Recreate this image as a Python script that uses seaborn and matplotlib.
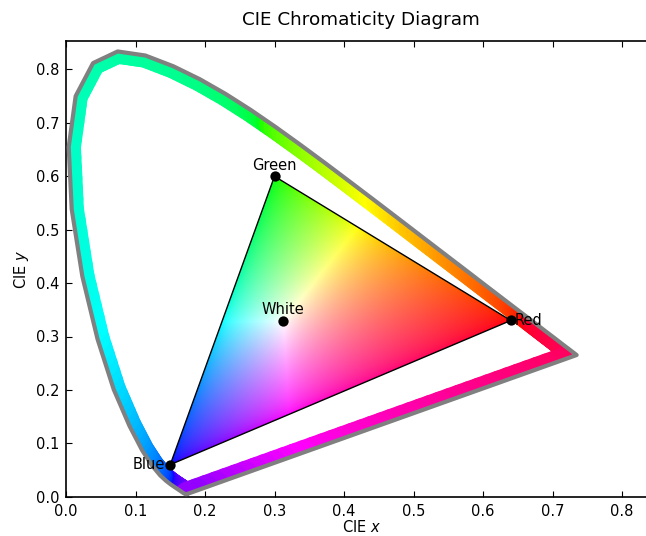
import numpy as np
import pandas as pd
import matplotlib
matplotlib.use("Agg")
import matplotlib.pyplot as plt
import seaborn as sns
from matplotlib.collections import LineCollection
from matplotlib.patches import Polygon
from matplotlib.path import Path

# ---- data -------------------------------------------------------------
wavelengths = [380, 385, 390, 395, 400, 405, 410, 415, 420, 425, 430, 435, 440, 445,
               450, 455, 460, 465, 470, 475, 480, 485, 490, 495, 500, 505, 510, 515,
               520, 525, 530, 535, 540, 545, 550, 555, 560, 565, 570, 575, 580, 585,
               590, 595, 600, 605, 610, 615, 620, 625, 630, 635, 640, 645, 650, 655,
               660, 665, 670, 675, 680, 685, 690, 695, 700]
locus_x = [0.1741, 0.1740, 0.1738, 0.1736, 0.1733, 0.1730, 0.1726, 0.1721, 0.1714,
           0.1703, 0.1689, 0.1669, 0.1644, 0.1611, 0.1566, 0.1510, 0.1440, 0.1355,
           0.1241, 0.1096, 0.0913, 0.0687, 0.0454, 0.0235, 0.0082, 0.0039, 0.0139,
           0.0389, 0.0743, 0.1142, 0.1547, 0.1929, 0.2296, 0.2658, 0.3016, 0.3373,
           0.3731, 0.4087, 0.4441, 0.4788, 0.5125, 0.5448, 0.5752, 0.6029, 0.6270,
           0.6482, 0.6658, 0.6801, 0.6915, 0.7006, 0.7079, 0.7140, 0.7190, 0.7230,
           0.7260, 0.7283, 0.7300, 0.7311, 0.7320, 0.7327, 0.7334, 0.7340, 0.7344,
           0.7346, 0.7347]
locus_y = [0.0050, 0.0050, 0.0049, 0.0049, 0.0048, 0.0048, 0.0048, 0.0048, 0.0051,
           0.0058, 0.0069, 0.0086, 0.0109, 0.0138, 0.0177, 0.0227, 0.0297, 0.0399,
           0.0578, 0.0868, 0.1327, 0.2007, 0.2950, 0.4127, 0.5384, 0.6548, 0.7502,
           0.8120, 0.8338, 0.8262, 0.8059, 0.7816, 0.7543, 0.7243, 0.6923, 0.6589,
           0.6245, 0.5896, 0.5547, 0.5202, 0.4866, 0.4544, 0.4242, 0.3965, 0.3725,
           0.3514, 0.3340, 0.3197, 0.3083, 0.2993, 0.2920, 0.2859, 0.2809, 0.2770,
           0.2740, 0.2717, 0.2700, 0.2689, 0.2680, 0.2673, 0.2666, 0.2660, 0.2656,
           0.2654, 0.2653]

point_names = ["Red", "Green", "Blue", "White"]
point_x = [0.64, 0.30, 0.15, 0.3127]
point_y = [0.33, 0.60, 0.06, 0.3290]

x_ticks = [0.0, 0.1, 0.2, 0.3, 0.4, 0.5, 0.6, 0.7, 0.8]
y_ticks = [0.0, 0.1, 0.2, 0.3, 0.4, 0.5, 0.6, 0.7, 0.8]

# ---- colour helper ----------------------------------------------------
M = np.array([[3.2406, -1.5372, -0.4986],
              [-0.9689, 1.8758, 0.0415],
              [0.0557, -0.2040, 1.0570]])


def xy_to_rgb(x, y, gamma=2.2):
    x = np.asarray(x, float)
    y = np.asarray(y, float)
    y = np.where(y <= 1e-6, 1e-6, y)
    X = x / y
    Y = np.ones_like(x)
    Z = (1 - x - y) / y
    xyz = np.stack([X, Y, Z], axis=-1)
    rgb = xyz @ M.T
    mn = np.minimum(rgb.min(axis=-1, keepdims=True), 0)
    rgb = rgb - mn
    rgb = rgb / rgb.max(axis=-1, keepdims=True)
    return np.clip(rgb, 0, 1) ** (1 / gamma)


# ---- figure -----------------------------------------------------------
sns.set_theme(style="white")
plt.rcParams["font.family"] = ["DejaVu Sans"]
plt.rcParams["mathtext.fontset"] = "dejavusans"

W, H = 646, 536
Y_TOP = 0.853
fig = plt.figure(figsize=(W / 100, H / 100), dpi=100)
ax_left = 66 / W
ax_bottom = (H - 496.7) / H
ax_w = 0.85 * 695 / W
ax_h = Y_TOP * 534 / H
ax = fig.add_axes([ax_left, ax_bottom, ax_w, ax_h])
ax.set_xlim(0, 0.85)
ax.set_ylim(0, Y_TOP)

lx = np.array(locus_x)
ly = np.array(locus_y)
closed_x = np.append(lx, lx[0])
closed_y = np.append(ly, ly[0])
locus_poly = Polygon(np.column_stack([closed_x, closed_y]), closed=True,
                     transform=ax.transData, facecolor="none", edgecolor="none")
ax.add_patch(locus_poly)

# colour band along the locus (clipped to the inside)
segs, cols = [], []
for i in range(len(closed_x) - 1):
    x0, y0, x1, y1 = closed_x[i], closed_y[i], closed_x[i + 1], closed_y[i + 1]
    n = 40 if i == len(closed_x) - 2 else 6
    ts = np.linspace(0, 1, n + 1)
    xs = x0 + (x1 - x0) * ts
    ys = y0 + (y1 - y0) * ts
    for k in range(n):
        segs.append([(xs[k], ys[k]), (xs[k + 1], ys[k + 1])])
        cols.append(xy_to_rgb((xs[k] + xs[k + 1]) / 2, (ys[k] + ys[k + 1]) / 2))
band = LineCollection(segs, colors=cols, linewidths=17.6, capstyle="round",
                      joinstyle="round", zorder=2)
ax.add_collection(band)
band.set_clip_path(locus_poly)

# gray outline
ax.plot(closed_x, closed_y, color="#808080", lw=3.0, solid_joinstyle="round",
        zorder=3)

# gamut triangle image
tri = np.column_stack([point_x[:3], point_y[:3]])
gx = np.linspace(0, 0.85, 500)
gy = np.linspace(0, 0.85, 500)
GX, GY = np.meshgrid(gx, gy)
rgb = xy_to_rgb(GX, GY, gamma=1.7)
inside = Path(tri).contains_points(np.column_stack([GX.ravel(), GY.ravel()]),
                                    radius=0.01).reshape(GX.shape)
rgba = np.dstack([rgb, inside.astype(float)])
im = ax.imshow(rgba, extent=(0, 0.85, 0, 0.85), origin="lower",
               interpolation="bilinear", zorder=1, aspect="auto")
tri_patch = Polygon(tri, closed=True, transform=ax.transData,
                    facecolor="none", edgecolor="black", lw=1.0, zorder=4)
ax.add_patch(tri_patch)
im.set_clip_path(tri_patch)

# points
df = pd.DataFrame({"name": point_names, "x": point_x, "y": point_y})
sns.scatterplot(data=df, x="x", y="y", color="black", s=55, edgecolor="black",
                linewidth=0, zorder=5, ax=ax, legend=False)

offsets = {"Red": ((3, 0), "left", "center"),
           "Green": ((0, 4.5), "center", "baseline"),
           "Blue": ((-3.5, 0), "right", "center"),
           "White": ((0, 5), "center", "baseline")}
for nm, px, py in zip(point_names, point_x, point_y):
    off, ha, va = offsets[nm]
    ax.annotate(nm, (px, py), xytext=off, textcoords="offset points",
                ha=ha, va=va, fontsize=10.5, color="black", zorder=6)

# axes styling (classic look)
ax.set_xticks(x_ticks)
ax.set_yticks(y_ticks)
ax.set_xticklabels([f"{t:.1f}" for t in x_ticks])
ax.set_yticklabels([f"{t:.1f}" for t in y_ticks])
ax.tick_params(direction="in", length=4, width=0.8, top=True, right=True,
               bottom=True, left=True, labelsize=10.5, colors="black", pad=5)
for sp in ax.spines.values():
    sp.set_color("black")
    sp.set_linewidth(1.2)
ax.set_xlabel("CIE $x$", fontsize=10.5, color="black", labelpad=0)
ax.set_ylabel("CIE $y$", fontsize=10.5, color="black", labelpad=3)
ax.set_title("CIE Chromaticity Diagram", fontsize=13.2, color="black", pad=12)
ax.grid(False)

fig.savefig("out.png", dpi=100)
